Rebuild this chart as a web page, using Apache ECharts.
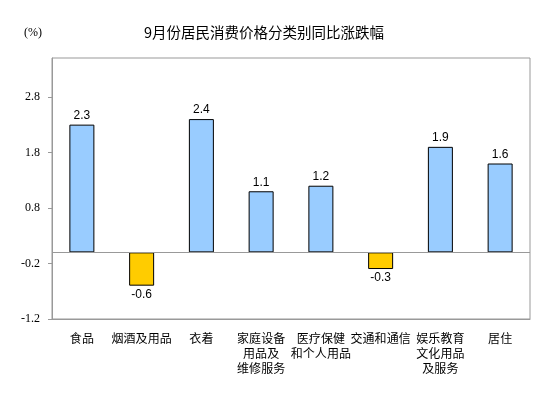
<!DOCTYPE html>
<html>
<head>
<meta charset="utf-8">
<script src="https://cdn.jsdelivr.net/npm/echarts@6/dist/echarts.min.js"></script>
<style>
  html, body { margin: 0; padding: 0; background: #fff; }
  #chart { width: 553px; height: 398px; }
</style>
</head>
<body>
<div id="chart"></div>
<script>
// 9月份居民消费价格分类别同比涨跌幅
const categories = ['食品', '烟酒及用品', '衣着', '家庭设备\n用品及\n维修服务', '医疗保健\n和个人用品', '交通和通信', '娱乐教育\n文化用品\n及服务', '居住'];
const values = [2.3, -0.6, 2.4, 1.1, 1.2, -0.3, 1.9, 1.6];
const yTicks = [-1.2, -0.2, 0.8, 1.8, 2.8];

const serif = '"Liberation Serif", "Times New Roman", serif';

const chart = echarts.init(document.getElementById('chart'));

const option = {
  animation: false,
  title: {
    text: '9月份居民消费价格分类别同比涨跌幅',
    left: 139,
    top: 20,
    textStyle: {
      fontFamily: 'Noto Sans CJK SC',
      fontSize: 14.5,
      fontWeight: 'normal',
      color: '#000'
    }
  },
  graphic: [{
    type: 'text',
    left: 24,
    top: 27,
    style: { text: '(%)', font: '12px ' + serif, fill: '#000' }
  }],
  grid: {
    left: 52,
    right: 23,
    top: 58,
    bottom: 79,
    show: true,
    borderColor: '#999',
    borderWidth: 1
  },
  xAxis: {
    type: 'category',
    data: categories,
    axisLine: { onZero: false, lineStyle: { color: '#999' } },
    axisTick: { show: false },
    axisLabel: {
      interval: 0,
      margin: 12,
      fontFamily: 'Noto Sans CJK SC',
      fontSize: 12,
      lineHeight: 15,
      color: '#000'
    }
  },
  yAxis: {
    type: 'value',
    min: yTicks[0],
    max: 3.5,
    interval: 1,
    splitLine: { show: false },
    axisLine: { show: true, lineStyle: { color: '#999' } },
    axisTick: { show: true, length: 4, lineStyle: { color: '#999' } },
    axisLabel: {
      showMaxLabel: false,
      margin: 12,
      fontFamily: serif,
      fontSize: 12,
      color: '#000',
      formatter: v => v.toFixed(1)
    }
  },
  series: [{
    type: 'bar',
    barWidth: 25,
    data: values.map(v => ({
      value: v,
      itemStyle: { color: v < 0 ? '#FFCC00' : '#99CCFF' },
      label: { position: v < 0 ? 'bottom' : 'top' }
    })),
    itemStyle: { borderColor: '#000', borderWidth: 1 },
    label: {
      show: true,
      distance: 3,
      fontFamily: 'Liberation Sans',
      fontSize: 12,
      color: '#000',
      formatter: p => p.value.toFixed(1)
    },
    markLine: {
      silent: true,
      symbol: 'none',
      label: { show: false },
      lineStyle: { color: '#999', type: 'solid', width: 1 },
      data: [{ yAxis: 0 }]
    }
  }]
};

chart.setOption(option);
</script>
</body>
</html>
